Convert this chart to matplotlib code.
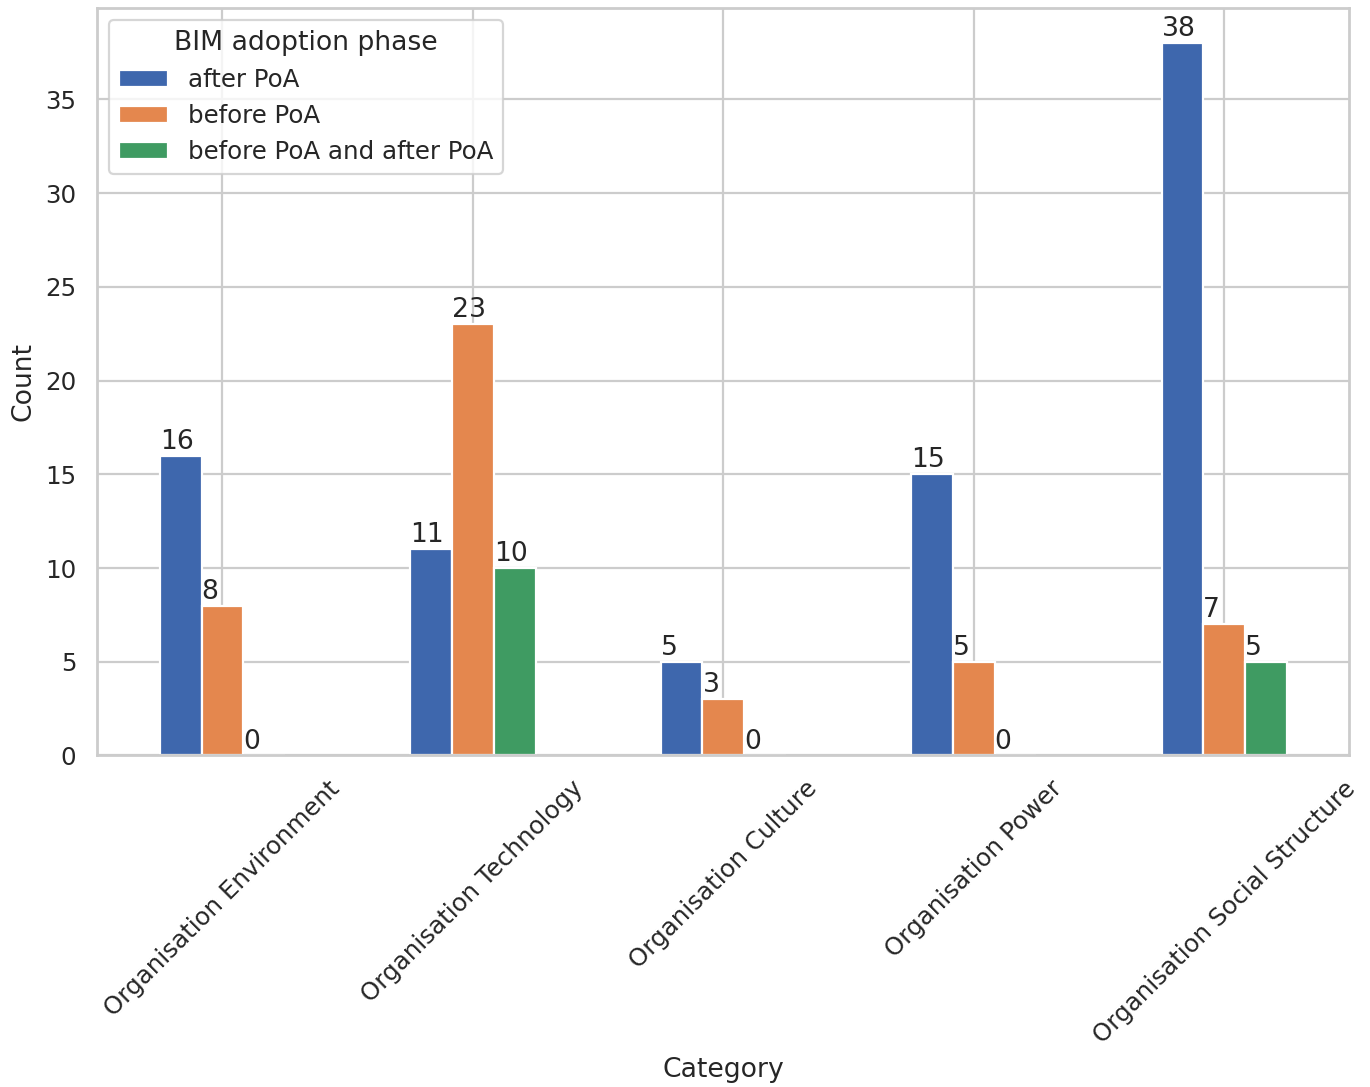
import matplotlib
matplotlib.use("Agg")
import matplotlib.pyplot as plt
import seaborn as sns
import pandas as pd

categories = ["Organisation Environment", "Organisation Technology", "Organisation Culture",
              "Organisation Power", "Organisation Social Structure"]
after_poa = [16, 11, 5, 15, 38]
before_poa = [8, 23, 3, 5, 7]
before_and_after = [0, 10, 0, 0, 5]

sns.set_theme(style="whitegrid")
plt.rcParams['font.family'] = ['DejaVu Sans']

df = pd.DataFrame({
    "after PoA": after_poa,
    "before PoA": before_poa,
    "before PoA and after PoA": before_and_after,
}, index=categories)

colors = ["#3E67AD", "#E4874E", "#3F9B62"]

fig, ax = plt.subplots(figsize=(1370 / 160, 1087 / 160), dpi=160)
df.plot(kind="bar", ax=ax, rot=45, color=colors)
# value labels at the left edge of each bar
for p in ax.patches:
    ax.text(p.get_x(), p.get_height() + 0.05, str(int(p.get_height())),
            ha="left", va="bottom", fontsize=12)
ax.set_xlabel("Category")
ax.set_ylabel("Count")
ax.legend(title="BIM adoption phase", loc="upper left")
ax.grid(True, axis="x")
plt.subplots_adjust(left=0.071, right=0.985, top=0.993, bottom=0.305)
plt.savefig("out.png")
